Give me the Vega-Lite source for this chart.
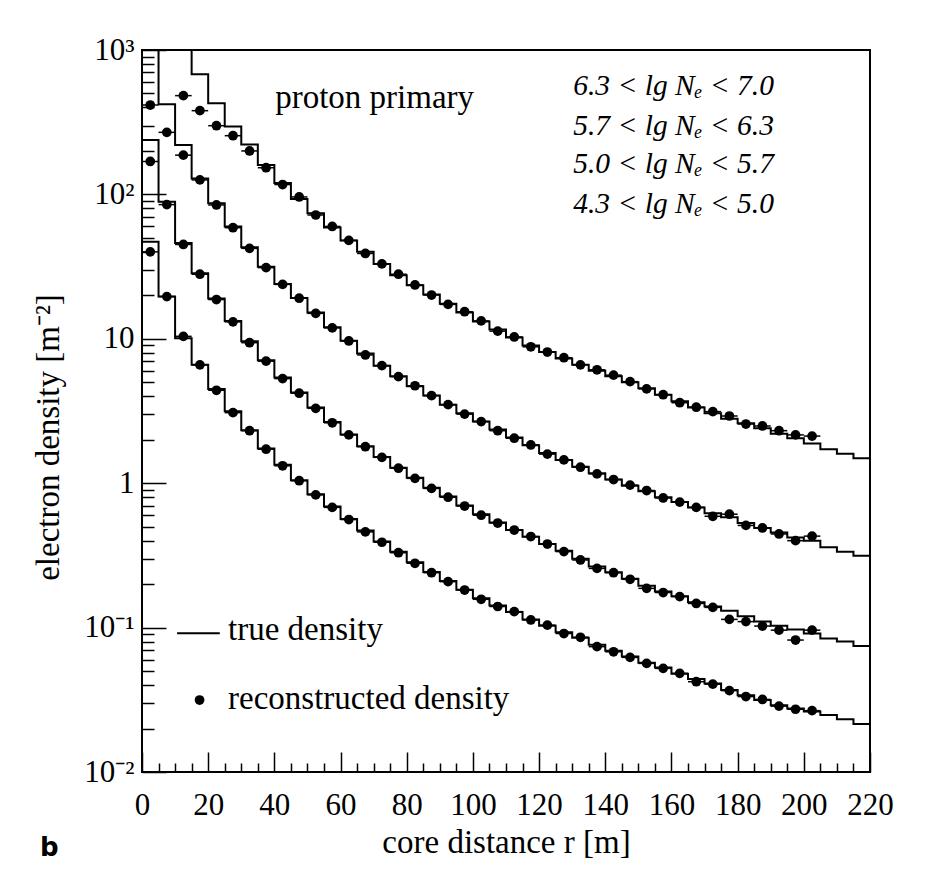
{
"$schema": "https://vega.github.io/schema/vega-lite/v6.json",
"autosize": {"type": "none"},
"padding": {"left": 142, "top": 50, "right": 62, "bottom": 100},
"width": 728,
"height": 722,
"background": "white",
"title": {"text": "b", "orient": "bottom", "anchor": "start", "frame": "group", "dx": -102, "dy": -28, "font": "DejaVu Sans", "fontWeight": "bold", "fontSize": 26, "color": "#000"},
"config": {
  "view": {"stroke": "#000", "strokeWidth": 2},
  "axis": {"labelFont": "Liberation Serif", "titleFont": "Liberation Serif", "labelColor": "#000", "titleColor": "#000", "tickColor": "#000", "tickWidth": 1.5, "domain": false, "grid": false, "titleFontWeight": "normal", "labelFontSize": 31, "titleFontSize": 33, "labelFlush": false, "labelOverlap": false}
},
"datasets": {
"hist": [
{"s":"A","r":0,"v":5000},{"s":"A","r":5,"v":3000},{"s":"A","r":10,"v":1500},{"s":"A","r":15,"v":678},{"s":"A","r":20,"v":428},{"s":"A","r":25,"v":295},{"s":"A","r":30,"v":222},{"s":"A","r":35,"v":160},{"s":"A","r":40,"v":120},{"s":"A","r":45,"v":93},{"s":"A","r":50,"v":74},{"s":"A","r":55,"v":59},{"s":"A","r":60,"v":48},{"s":"A","r":65,"v":40},{"s":"A","r":70,"v":33},{"s":"A","r":75,"v":27.5},{"s":"A","r":80,"v":23.5},{"s":"A","r":85,"v":20.3},{"s":"A","r":90,"v":17.5},{"s":"A","r":95,"v":15.2},{"s":"A","r":100,"v":13.2},{"s":"A","r":105,"v":11.6},{"s":"A","r":110,"v":10.2},{"s":"A","r":115,"v":9.0},{"s":"A","r":120,"v":8.1},{"s":"A","r":125,"v":7.3},{"s":"A","r":130,"v":6.6},{"s":"A","r":135,"v":6.0},{"s":"A","r":140,"v":5.5},{"s":"A","r":145,"v":5.0},{"s":"A","r":150,"v":4.55},{"s":"A","r":155,"v":4.1},{"s":"A","r":160,"v":3.7},{"s":"A","r":165,"v":3.35},{"s":"A","r":170,"v":3.05},{"s":"A","r":175,"v":2.8},{"s":"A","r":180,"v":2.6},{"s":"A","r":185,"v":2.4},{"s":"A","r":190,"v":2.2},{"s":"A","r":195,"v":2.05},{"s":"A","r":200,"v":1.88},{"s":"A","r":205,"v":1.72},{"s":"A","r":210,"v":1.6},{"s":"A","r":215,"v":1.49},{"s":"A","r":220,"v":1.49},
{"s":"B","r":0,"v":2000},{"s":"B","r":5,"v":421},{"s":"B","r":10,"v":220},{"s":"B","r":15,"v":129},{"s":"B","r":20,"v":87},{"s":"B","r":25,"v":60},{"s":"B","r":30,"v":43},{"s":"B","r":35,"v":31.5},{"s":"B","r":40,"v":24},{"s":"B","r":45,"v":19.2},{"s":"B","r":50,"v":15.2},{"s":"B","r":55,"v":12.0},{"s":"B","r":60,"v":9.7},{"s":"B","r":65,"v":7.9},{"s":"B","r":70,"v":6.5},{"s":"B","r":75,"v":5.5},{"s":"B","r":80,"v":4.7},{"s":"B","r":85,"v":4.05},{"s":"B","r":90,"v":3.5},{"s":"B","r":95,"v":3.05},{"s":"B","r":100,"v":2.68},{"s":"B","r":105,"v":2.35},{"s":"B","r":110,"v":2.07},{"s":"B","r":115,"v":1.83},{"s":"B","r":120,"v":1.62},{"s":"B","r":125,"v":1.45},{"s":"B","r":130,"v":1.3},{"s":"B","r":135,"v":1.17},{"s":"B","r":140,"v":1.06},{"s":"B","r":145,"v":0.96},{"s":"B","r":150,"v":0.88},{"s":"B","r":155,"v":0.8},{"s":"B","r":160,"v":0.74},{"s":"B","r":165,"v":0.68},{"s":"B","r":170,"v":0.62},{"s":"B","r":175,"v":0.58},{"s":"B","r":180,"v":0.53},{"s":"B","r":185,"v":0.49},{"s":"B","r":190,"v":0.455},{"s":"B","r":195,"v":0.42},{"s":"B","r":200,"v":0.4},{"s":"B","r":205,"v":0.36},{"s":"B","r":210,"v":0.335},{"s":"B","r":215,"v":0.315},{"s":"B","r":220,"v":0.315},
{"s":"C","r":0,"v":238},{"s":"C","r":5,"v":89},{"s":"C","r":10,"v":46},{"s":"C","r":15,"v":28.4},{"s":"C","r":20,"v":19},{"s":"C","r":25,"v":13.3},{"s":"C","r":30,"v":9.6},{"s":"C","r":35,"v":7.1},{"s":"C","r":40,"v":5.4},{"s":"C","r":45,"v":4.25},{"s":"C","r":50,"v":3.35},{"s":"C","r":55,"v":2.65},{"s":"C","r":60,"v":2.17},{"s":"C","r":65,"v":1.8},{"s":"C","r":70,"v":1.52},{"s":"C","r":75,"v":1.28},{"s":"C","r":80,"v":1.09},{"s":"C","r":85,"v":0.93},{"s":"C","r":90,"v":0.81},{"s":"C","r":95,"v":0.7},{"s":"C","r":100,"v":0.61},{"s":"C","r":105,"v":0.535},{"s":"C","r":110,"v":0.475},{"s":"C","r":115,"v":0.425},{"s":"C","r":120,"v":0.38},{"s":"C","r":125,"v":0.34},{"s":"C","r":130,"v":0.3},{"s":"C","r":135,"v":0.265},{"s":"C","r":140,"v":0.242},{"s":"C","r":145,"v":0.218},{"s":"C","r":150,"v":0.195},{"s":"C","r":155,"v":0.178},{"s":"C","r":160,"v":0.165},{"s":"C","r":165,"v":0.15},{"s":"C","r":170,"v":0.14},{"s":"C","r":175,"v":0.131},{"s":"C","r":180,"v":0.12},{"s":"C","r":185,"v":0.11},{"s":"C","r":190,"v":0.103},{"s":"C","r":195,"v":0.097},{"s":"C","r":200,"v":0.091},{"s":"C","r":205,"v":0.084},{"s":"C","r":210,"v":0.08},{"s":"C","r":215,"v":0.0745},{"s":"C","r":220,"v":0.0745},
{"s":"D","r":0,"v":47},{"s":"D","r":5,"v":19.6},{"s":"D","r":10,"v":10.1},{"s":"D","r":15,"v":6.6},{"s":"D","r":20,"v":4.5},{"s":"D","r":25,"v":3.15},{"s":"D","r":30,"v":2.33},{"s":"D","r":35,"v":1.74},{"s":"D","r":40,"v":1.34},{"s":"D","r":45,"v":1.05},{"s":"D","r":50,"v":0.84},{"s":"D","r":55,"v":0.69},{"s":"D","r":60,"v":0.565},{"s":"D","r":65,"v":0.47},{"s":"D","r":70,"v":0.395},{"s":"D","r":75,"v":0.335},{"s":"D","r":80,"v":0.283},{"s":"D","r":85,"v":0.243},{"s":"D","r":90,"v":0.21},{"s":"D","r":95,"v":0.183},{"s":"D","r":100,"v":0.16},{"s":"D","r":105,"v":0.142},{"s":"D","r":110,"v":0.128},{"s":"D","r":115,"v":0.114},{"s":"D","r":120,"v":0.103},{"s":"D","r":125,"v":0.093},{"s":"D","r":130,"v":0.085},{"s":"D","r":135,"v":0.076},{"s":"D","r":140,"v":0.069},{"s":"D","r":145,"v":0.063},{"s":"D","r":150,"v":0.057},{"s":"D","r":155,"v":0.053},{"s":"D","r":160,"v":0.048},{"s":"D","r":165,"v":0.044},{"s":"D","r":170,"v":0.041},{"s":"D","r":175,"v":0.037},{"s":"D","r":180,"v":0.034},{"s":"D","r":185,"v":0.0315},{"s":"D","r":190,"v":0.029},{"s":"D","r":195,"v":0.0275},{"s":"D","r":200,"v":0.0262},{"s":"D","r":205,"v":0.0248},{"s":"D","r":210,"v":0.0232},{"s":"D","r":215,"v":0.0215},{"s":"D","r":220,"v":0.0215}
],
"dots": [
{"s":"A","r":12.5,"lo":10,"hi":15,"v":483},{"s":"A","r":17.5,"lo":15,"hi":20,"v":380},{"s":"A","r":22.5,"lo":20,"hi":25,"v":299},{"s":"A","r":27.5,"lo":25,"hi":30,"v":255},{"s":"A","r":32.5,"lo":30,"hi":35,"v":200},{"s":"A","r":37.5,"lo":35,"hi":40,"v":153},{"s":"A","r":42.5,"lo":40,"hi":45,"v":117},{"s":"A","r":47.5,"lo":45,"hi":50,"v":96},{"s":"A","r":52.5,"lo":50,"hi":55,"v":72},{"s":"A","r":57.5,"lo":55,"hi":60,"v":60},{"s":"A","r":62.5,"lo":60,"hi":65,"v":48},{"s":"A","r":67.5,"lo":65,"hi":70,"v":39},{"s":"A","r":72.5,"lo":70,"hi":75,"v":33},{"s":"A","r":77.5,"lo":75,"hi":80,"v":28},{"s":"A","r":82.5,"lo":80,"hi":85,"v":23.6},{"s":"A","r":87.5,"lo":85,"hi":90,"v":20.1},{"s":"A","r":92.5,"lo":90,"hi":95,"v":17.3},{"s":"A","r":97.5,"lo":95,"hi":100,"v":15.4},{"s":"A","r":102.5,"lo":100,"hi":105,"v":13.3},{"s":"A","r":107.5,"lo":105,"hi":110,"v":11.3},{"s":"A","r":112.5,"lo":110,"hi":115,"v":10.3},{"s":"A","r":117.5,"lo":115,"hi":120,"v":8.8},{"s":"A","r":122.5,"lo":120,"hi":125,"v":8.1},{"s":"A","r":127.5,"lo":125,"hi":130,"v":7.4},{"s":"A","r":132.5,"lo":130,"hi":135,"v":6.6},{"s":"A","r":137.5,"lo":135,"hi":140,"v":6.1},{"s":"A","r":142.5,"lo":140,"hi":145,"v":5.6},{"s":"A","r":147.5,"lo":145,"hi":150,"v":5.05},{"s":"A","r":152.5,"lo":150,"hi":155,"v":4.5},{"s":"A","r":157.5,"lo":155,"hi":160,"v":4.1},{"s":"A","r":162.5,"lo":160,"hi":165,"v":3.61},{"s":"A","r":167.5,"lo":165,"hi":170,"v":3.36},{"s":"A","r":172.5,"lo":170,"hi":175,"v":3.13},{"s":"A","r":177.5,"lo":175,"hi":180,"v":2.92},{"s":"A","r":182.5,"lo":180,"hi":185,"v":2.57},{"s":"A","r":187.5,"lo":185,"hi":190,"v":2.49},{"s":"A","r":192.5,"lo":190,"hi":195,"v":2.31},{"s":"A","r":197.5,"lo":195,"hi":200,"v":2.16},{"s":"A","r":202.5,"lo":200,"hi":205,"v":2.12},
{"s":"B","r":2.5,"lo":0,"hi":5,"v":416},{"s":"B","r":7.5,"lo":5,"hi":10,"v":269},{"s":"B","r":12.5,"lo":10,"hi":15,"v":187},{"s":"B","r":17.5,"lo":15,"hi":20,"v":126},{"s":"B","r":22.5,"lo":20,"hi":25,"v":84.5},{"s":"B","r":27.5,"lo":25,"hi":30,"v":58.8},{"s":"B","r":32.5,"lo":30,"hi":35,"v":42.3},{"s":"B","r":37.5,"lo":35,"hi":40,"v":31.1},{"s":"B","r":42.5,"lo":40,"hi":45,"v":23.8},{"s":"B","r":47.5,"lo":45,"hi":50,"v":19.1},{"s":"B","r":52.5,"lo":50,"hi":55,"v":15.0},{"s":"B","r":57.5,"lo":55,"hi":60,"v":11.9},{"s":"B","r":62.5,"lo":60,"hi":65,"v":9.66},{"s":"B","r":67.5,"lo":65,"hi":70,"v":7.73},{"s":"B","r":72.5,"lo":70,"hi":75,"v":6.52},{"s":"B","r":77.5,"lo":75,"hi":80,"v":5.47},{"s":"B","r":82.5,"lo":80,"hi":85,"v":4.73},{"s":"B","r":87.5,"lo":85,"hi":90,"v":4.04},{"s":"B","r":92.5,"lo":90,"hi":95,"v":3.5},{"s":"B","r":97.5,"lo":95,"hi":100,"v":3.01},{"s":"B","r":102.5,"lo":100,"hi":105,"v":2.67},{"s":"B","r":107.5,"lo":105,"hi":110,"v":2.31},{"s":"B","r":112.5,"lo":110,"hi":115,"v":2.05},{"s":"B","r":117.5,"lo":115,"hi":120,"v":1.84},{"s":"B","r":122.5,"lo":120,"hi":125,"v":1.59},{"s":"B","r":127.5,"lo":125,"hi":130,"v":1.45},{"s":"B","r":132.5,"lo":130,"hi":135,"v":1.29},{"s":"B","r":137.5,"lo":135,"hi":140,"v":1.16},{"s":"B","r":142.5,"lo":140,"hi":145,"v":1.06},{"s":"B","r":147.5,"lo":145,"hi":150,"v":0.97},{"s":"B","r":152.5,"lo":150,"hi":155,"v":0.89},{"s":"B","r":157.5,"lo":155,"hi":160,"v":0.79},{"s":"B","r":162.5,"lo":160,"hi":165,"v":0.74},{"s":"B","r":167.5,"lo":165,"hi":170,"v":0.68},{"s":"B","r":172.5,"lo":170,"hi":175,"v":0.59},{"s":"B","r":177.5,"lo":175,"hi":180,"v":0.61},{"s":"B","r":182.5,"lo":180,"hi":185,"v":0.51},{"s":"B","r":187.5,"lo":185,"hi":190,"v":0.49},{"s":"B","r":192.5,"lo":190,"hi":195,"v":0.445},{"s":"B","r":197.5,"lo":195,"hi":200,"v":0.4},{"s":"B","r":202.5,"lo":200,"hi":205,"v":0.43},
{"s":"C","r":2.5,"lo":0,"hi":5,"v":169},{"s":"C","r":7.5,"lo":5,"hi":10,"v":85},{"s":"C","r":12.5,"lo":10,"hi":15,"v":45},{"s":"C","r":17.5,"lo":15,"hi":20,"v":28},{"s":"C","r":22.5,"lo":20,"hi":25,"v":18.7},{"s":"C","r":27.5,"lo":25,"hi":30,"v":13.1},{"s":"C","r":32.5,"lo":30,"hi":35,"v":9.4},{"s":"C","r":37.5,"lo":35,"hi":40,"v":7.0},{"s":"C","r":42.5,"lo":40,"hi":45,"v":5.3},{"s":"C","r":47.5,"lo":45,"hi":50,"v":4.2},{"s":"C","r":52.5,"lo":50,"hi":55,"v":3.3},{"s":"C","r":57.5,"lo":55,"hi":60,"v":2.62},{"s":"C","r":62.5,"lo":60,"hi":65,"v":2.16},{"s":"C","r":67.5,"lo":65,"hi":70,"v":1.79},{"s":"C","r":72.5,"lo":70,"hi":75,"v":1.51},{"s":"C","r":77.5,"lo":75,"hi":80,"v":1.27},{"s":"C","r":82.5,"lo":80,"hi":85,"v":1.08},{"s":"C","r":87.5,"lo":85,"hi":90,"v":0.92},{"s":"C","r":92.5,"lo":90,"hi":95,"v":0.8},{"s":"C","r":97.5,"lo":95,"hi":100,"v":0.695},{"s":"C","r":102.5,"lo":100,"hi":105,"v":0.6},{"s":"C","r":107.5,"lo":105,"hi":110,"v":0.53},{"s":"C","r":112.5,"lo":110,"hi":115,"v":0.474},{"s":"C","r":117.5,"lo":115,"hi":120,"v":0.427},{"s":"C","r":122.5,"lo":120,"hi":125,"v":0.379},{"s":"C","r":127.5,"lo":125,"hi":130,"v":0.336},{"s":"C","r":132.5,"lo":130,"hi":135,"v":0.294},{"s":"C","r":137.5,"lo":135,"hi":140,"v":0.257},{"s":"C","r":142.5,"lo":140,"hi":145,"v":0.24},{"s":"C","r":147.5,"lo":145,"hi":150,"v":0.216},{"s":"C","r":152.5,"lo":150,"hi":155,"v":0.187},{"s":"C","r":157.5,"lo":155,"hi":160,"v":0.175},{"s":"C","r":162.5,"lo":160,"hi":165,"v":0.164},{"s":"C","r":167.5,"lo":165,"hi":170,"v":0.147},{"s":"C","r":172.5,"lo":170,"hi":175,"v":0.138},{"s":"C","r":177.5,"lo":175,"hi":180,"v":0.114},{"s":"C","r":182.5,"lo":180,"hi":185,"v":0.11},{"s":"C","r":187.5,"lo":185,"hi":190,"v":0.1025},{"s":"C","r":192.5,"lo":190,"hi":195,"v":0.096},{"s":"C","r":197.5,"lo":195,"hi":200,"v":0.082},{"s":"C","r":202.5,"lo":200,"hi":205,"v":0.096},
{"s":"D","r":2.5,"lo":0,"hi":5,"v":40},{"s":"D","r":7.5,"lo":5,"hi":10,"v":19.6},{"s":"D","r":12.5,"lo":10,"hi":15,"v":10.4},{"s":"D","r":17.5,"lo":15,"hi":20,"v":6.6},{"s":"D","r":22.5,"lo":20,"hi":25,"v":4.4},{"s":"D","r":27.5,"lo":25,"hi":30,"v":3.08},{"s":"D","r":32.5,"lo":30,"hi":35,"v":2.31},{"s":"D","r":37.5,"lo":35,"hi":40,"v":1.72},{"s":"D","r":42.5,"lo":40,"hi":45,"v":1.32},{"s":"D","r":47.5,"lo":45,"hi":50,"v":1.04},{"s":"D","r":52.5,"lo":50,"hi":55,"v":0.83},{"s":"D","r":57.5,"lo":55,"hi":60,"v":0.68},{"s":"D","r":62.5,"lo":60,"hi":65,"v":0.56},{"s":"D","r":67.5,"lo":65,"hi":70,"v":0.46},{"s":"D","r":72.5,"lo":70,"hi":75,"v":0.39},{"s":"D","r":77.5,"lo":75,"hi":80,"v":0.33},{"s":"D","r":82.5,"lo":80,"hi":85,"v":0.279},{"s":"D","r":87.5,"lo":85,"hi":90,"v":0.24},{"s":"D","r":92.5,"lo":90,"hi":95,"v":0.208},{"s":"D","r":97.5,"lo":95,"hi":100,"v":0.182},{"s":"D","r":102.5,"lo":100,"hi":105,"v":0.157},{"s":"D","r":107.5,"lo":105,"hi":110,"v":0.14},{"s":"D","r":112.5,"lo":110,"hi":115,"v":0.129},{"s":"D","r":117.5,"lo":115,"hi":120,"v":0.113},{"s":"D","r":122.5,"lo":120,"hi":125,"v":0.104},{"s":"D","r":127.5,"lo":125,"hi":130,"v":0.091},{"s":"D","r":132.5,"lo":130,"hi":135,"v":0.0857},{"s":"D","r":137.5,"lo":135,"hi":140,"v":0.0738},{"s":"D","r":142.5,"lo":140,"hi":145,"v":0.068},{"s":"D","r":147.5,"lo":145,"hi":150,"v":0.0622},{"s":"D","r":152.5,"lo":150,"hi":155,"v":0.0565},{"s":"D","r":157.5,"lo":155,"hi":160,"v":0.0522},{"s":"D","r":162.5,"lo":160,"hi":165,"v":0.0482},{"s":"D","r":167.5,"lo":165,"hi":170,"v":0.0422},{"s":"D","r":172.5,"lo":170,"hi":175,"v":0.0406},{"s":"D","r":177.5,"lo":175,"hi":180,"v":0.0366},{"s":"D","r":182.5,"lo":180,"hi":185,"v":0.0333},{"s":"D","r":187.5,"lo":185,"hi":190,"v":0.0318},{"s":"D","r":192.5,"lo":190,"hi":195,"v":0.0286},{"s":"D","r":197.5,"lo":195,"hi":200,"v":0.0272},{"s":"D","r":202.5,"lo":200,"hi":205,"v":0.0266}
]
},
"resolve": {"axis": {"x": "independent", "y": "independent"}},
"layer": [
{
  "data": {"name": "hist"},
  "mark": {"type": "line", "interpolate": "step-after", "color": "#000", "strokeWidth": 2, "clip": true},
  "encoding": {
    "x": {"field": "r", "type": "quantitative", "scale": {"domain": [0, 220], "nice": false, "zero": false},
      "axis": {"orient": "bottom", "values": [0,20,40,60,80,100,120,140,160,180,200,220], "tickSize": -20, "labelPadding": 38, "title": "core distance r [m]", "titleY": 80, "titleBaseline": "alphabetic"}},
    "y": {"field": "v", "type": "quantitative", "scale": {"type": "log", "domain": [0.01, 1000], "nice": false},
      "axis": {"orient": "left", "values": [0.01, 0.1, 1, 10, 100, 1000], "tickSize": -24, "labelPadding": 32, "labelBaseline": "middle",
        "labelExpr": "datum.value >= 999 ? '10³' : datum.value >= 99 ? '10²' : datum.value >= 9 ? '10' : datum.value >= 0.9 ? '1' : datum.value >= 0.09 ? '10⁻¹' : '10⁻²'",
        "title": "electron density [m⁻²]", "titleX": -94, "titleY": 387, "titleBaseline": "middle", "titleAlign": "center", "titleAngle": 270}},
    "detail": {"field": "s"}
  }
},
{
  "data": {"name": "dots"},
  "mark": {"type": "rule", "color": "#000", "strokeWidth": 1.5, "clip": true},
  "encoding": {
    "x": {"field": "lo", "type": "quantitative", "axis": null},
    "x2": {"field": "hi"},
    "y": {"field": "v", "type": "quantitative", "axis": null}
  }
},
{
  "data": {"name": "dots"},
  "mark": {"type": "point", "filled": true, "shape": "circle", "color": "#000", "size": 95, "opacity": 1, "clip": true},
  "encoding": {
    "x": {"field": "r", "type": "quantitative",
      "axis": {"orient": "bottom", "values": [5,10,15,25,30,35,45,50,55,65,70,75,85,90,95,105,110,115,125,130,135,145,150,155,165,170,175,185,190,195,205,210,215], "tickSize": -9, "labels": false, "title": null}},
    "y": {"field": "v", "type": "quantitative",
      "axis": {"orient": "left", "values": [0.02,0.03,0.04,0.05,0.06,0.07,0.08,0.09,0.2,0.3,0.4,0.5,0.6,0.7,0.8,0.9,2,3,4,5,6,7,8,9,20,30,40,50,60,70,80,90,200,300,400,500,600,700,800,900], "tickSize": -12, "labels": false, "title": null}}
  }
},
{
  "data": {"values": [{}]},
  "mark": {"type": "text", "font": "Liberation Serif", "fontSize": 33, "align": "center", "baseline": "alphabetic", "color": "#000", "text": "proton primary"},
  "encoding": {"x": {"datum": 70.3, "type": "quantitative", "axis": null}, "y": {"datum": 396, "type": "quantitative", "axis": null}}
},
{
  "data": {"values": [{}]},
  "mark": {"type": "text", "font": "Liberation Serif", "fontSize": 29.5, "fontStyle": "italic", "align": "left", "baseline": "alphabetic", "color": "#000", "text": "6.3 < lg Nₑ < 7.0"},
  "encoding": {"x": {"datum": 130.3, "type": "quantitative", "axis": null}, "y": {"datum": 488, "type": "quantitative", "axis": null}}
},
{
  "data": {"values": [{}]},
  "mark": {"type": "text", "font": "Liberation Serif", "fontSize": 29.5, "fontStyle": "italic", "align": "left", "baseline": "alphabetic", "color": "#000", "text": "5.7 < lg Nₑ < 6.3"},
  "encoding": {"x": {"datum": 130.3, "type": "quantitative", "axis": null}, "y": {"datum": 258, "type": "quantitative", "axis": null}}
},
{
  "data": {"values": [{}]},
  "mark": {"type": "text", "font": "Liberation Serif", "fontSize": 29.5, "fontStyle": "italic", "align": "left", "baseline": "alphabetic", "color": "#000", "text": "5.0 < lg Nₑ < 5.7"},
  "encoding": {"x": {"datum": 130.3, "type": "quantitative", "axis": null}, "y": {"datum": 141, "type": "quantitative", "axis": null}}
},
{
  "data": {"values": [{}]},
  "mark": {"type": "text", "font": "Liberation Serif", "fontSize": 29.5, "fontStyle": "italic", "align": "left", "baseline": "alphabetic", "color": "#000", "text": "4.3 < lg Nₑ < 5.0"},
  "encoding": {"x": {"datum": 130.3, "type": "quantitative", "axis": null}, "y": {"datum": 74.3, "type": "quantitative", "axis": null}}
},
{
  "data": {"values": [{}]},
  "mark": {"type": "rule", "color": "#000", "strokeWidth": 2},
  "encoding": {"x": {"datum": 10.6, "type": "quantitative", "axis": null}, "x2": {"datum": 23.5}, "y": {"datum": 0.0914, "type": "quantitative", "axis": null}}
},
{
  "data": {"values": [{}]},
  "mark": {"type": "text", "font": "Liberation Serif", "fontSize": 33, "align": "left", "baseline": "alphabetic", "color": "#000", "text": "true density"},
  "encoding": {"x": {"datum": 26, "type": "quantitative", "axis": null}, "y": {"datum": 0.082, "type": "quantitative", "axis": null}}
},
{
  "data": {"values": [{}]},
  "mark": {"type": "point", "filled": true, "shape": "circle", "color": "#000", "size": 95, "opacity": 1},
  "encoding": {"x": {"datum": 17.4, "type": "quantitative", "axis": null}, "y": {"datum": 0.0315, "type": "quantitative", "axis": null}}
},
{
  "data": {"values": [{}]},
  "mark": {"type": "text", "font": "Liberation Serif", "fontSize": 33, "align": "left", "baseline": "alphabetic", "color": "#000", "text": "reconstructed density"},
  "encoding": {"x": {"datum": 26, "type": "quantitative", "axis": null}, "y": {"datum": 0.0273, "type": "quantitative", "axis": null}}
}
]
}
